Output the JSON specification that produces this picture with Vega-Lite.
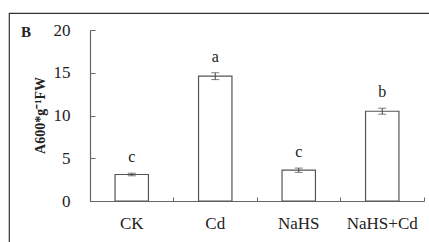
{
  "$schema": "https://vega.github.io/schema/vega-lite/v6.json",
  "autosize": {"type": "none"},
  "padding": {"left": 9, "top": 13, "right": 0, "bottom": 0},
  "width": 440,
  "height": 250,
  "background": "white",
  "config": {
    "view": {"stroke": "#333", "strokeWidth": 1.2},
    "font": "Liberation Serif"
  },
  "title": {
    "text": "B",
    "anchor": "start",
    "frame": "group",
    "orient": "top",
    "offset": -39,
    "dx": 12,
    "baseline": "alphabetic",
    "font": "Liberation Serif",
    "fontSize": 15,
    "fontWeight": "bold",
    "color": "#222"
  },
  "data": {
    "values": [
      {"trt": "CK", "mean": 3.1, "se": 0.15, "sig": "c"},
      {"trt": "Cd", "mean": 14.6, "se": 0.4, "sig": "a"},
      {"trt": "NaHS", "mean": 3.6, "se": 0.25, "sig": "c"},
      {"trt": "NaHS+Cd", "mean": 10.5, "se": 0.35, "sig": "b"}
    ]
  },
  "transform": [
    {"calculate": "datum.mean - datum.se", "as": "lo"},
    {"calculate": "datum.mean + datum.se", "as": "hi"}
  ],
  "encoding": {
    "x": {
      "field": "trt",
      "type": "nominal",
      "sort": ["CK", "Cd", "NaHS", "NaHS+Cd"],
      "scale": {"range": [81, 415], "paddingInner": 0, "paddingOuter": 0},
      "axis": {
        "title": null,
        "offset": -62,
        "bandPosition": 1,
        "tickExtra": true,
        "tickSize": -4,
        "tickColor": "#666",
        "domainColor": "#666",
        "domainWidth": 1.2,
        "labelAngle": 0,
        "labelFont": "Liberation Serif",
        "labelFontSize": 17,
        "labelColor": "#222",
        "labelPadding": 18
      }
    }
  },
  "layer": [
    {
      "mark": {"type": "bar", "width": {"band": 0.4}, "fill": "white", "stroke": "#555", "strokeWidth": 1.2},
      "encoding": {
        "y": {
          "field": "mean",
          "type": "quantitative",
          "scale": {"domain": [0, 20], "range": [188, 17], "nice": false},
          "axis": {
            "title": "A600*g⁻¹FW",
            "titleFont": "Liberation Serif",
            "titleFontSize": 14,
            "titleFontWeight": "bold",
            "titleColor": "#222",
            "titleY": 102,
            "titlePadding": 6,
            "offset": -81,
            "values": [0, 5, 10, 15, 20],
            "grid": false,
            "tickSize": -5,
            "tickColor": "#666",
            "domainColor": "#666",
            "domainWidth": 1.2,
            "labelFont": "Liberation Serif",
            "labelFontSize": 17,
            "labelColor": "#222",
            "labelPadding": 25
          }
        }
      }
    },
    {
      "mark": {"type": "rule", "stroke": "#444", "strokeWidth": 1},
      "encoding": {"y": {"field": "lo", "type": "quantitative"}, "y2": {"field": "hi"}}
    },
    {
      "mark": {"type": "tick", "size": 8, "thickness": 1, "color": "#444"},
      "encoding": {"y": {"field": "lo", "type": "quantitative"}}
    },
    {
      "mark": {"type": "tick", "size": 8, "thickness": 1, "color": "#444"},
      "encoding": {"y": {"field": "hi", "type": "quantitative"}}
    },
    {
      "mark": {"type": "text", "dy": -11, "baseline": "alphabetic", "font": "Liberation Serif", "fontSize": 16, "color": "#222"},
      "encoding": {"y": {"field": "hi", "type": "quantitative"}, "text": {"field": "sig"}}
    }
  ]
}
